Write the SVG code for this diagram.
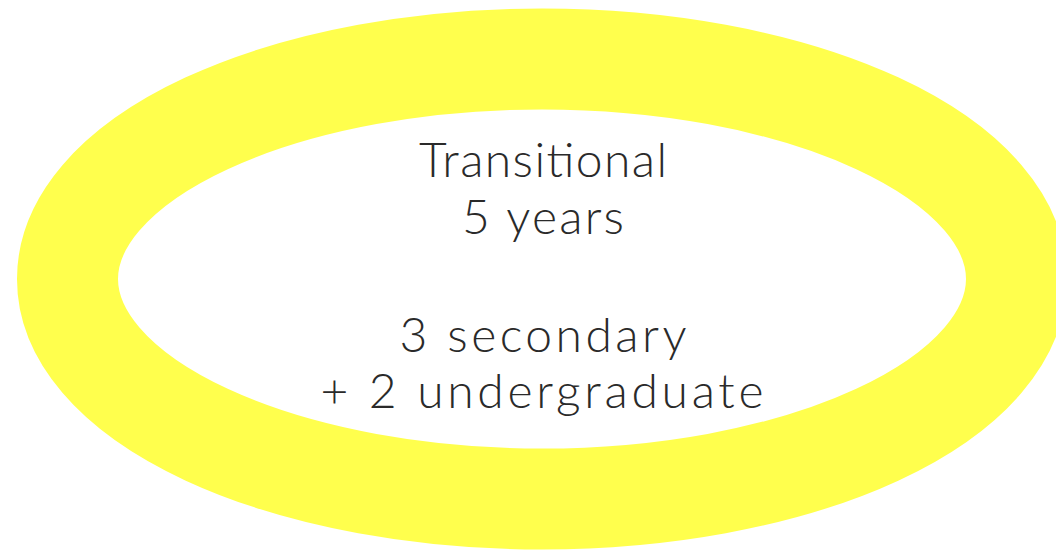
<svg xmlns="http://www.w3.org/2000/svg" width="1056" height="552" viewBox="0 0 1056 552">
<style>
.ring{fill:none;stroke:#FFFF4D;stroke-width:101}
.lbl{font-family:Lato,"Liberation Sans",sans-serif;font-weight:300;font-size:48px;fill:#2a2a2a;text-anchor:middle}
</style>
<rect width="1056" height="552" fill="#ffffff"/>
<g id="node-transitional">
<ellipse class="ring" cx="542" cy="279" rx="474.5" ry="220"/>
<text class="lbl" x="543" y="177" textLength="248" lengthAdjust="spacing">Transitional</text>
<text class="lbl" x="543" y="234" textLength="162" lengthAdjust="spacing">5 years</text>
<text class="lbl" x="543" y="352" textLength="287" lengthAdjust="spacing">3 secondary</text>
<text class="lbl" x="542" y="408" textLength="443" lengthAdjust="spacing">+ 2 undergraduate</text>
</g>
<g id="connectors"/>
</svg>
